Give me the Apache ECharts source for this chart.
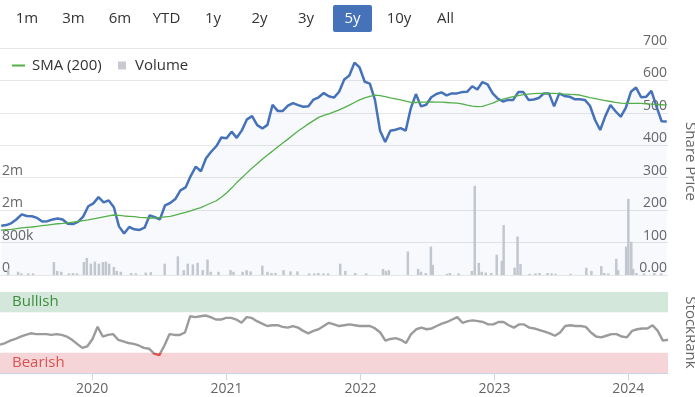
<!DOCTYPE html>
<html>
<head>
<meta charset="utf-8">
<script src="https://cdn.jsdelivr.net/npm/echarts@6/dist/echarts.min.js"></script>
<style>
  html, body { margin: 0; padding: 0; background: #fff; }
  #chart { width: 695px; height: 397px; }
</style>
</head>
<body>
<div id="chart"></div>
<script>
// range: 5 years, one sample every 2 weeks
const startDate = '2019-04-25'
const endDate = '2024-04-18'
const stepDays = 14

const rangeButtons = ['1m', '3m', '6m', 'YTD', '1y', '2y', '3y', '5y', '10y', 'All']
const activeRange = '5y'

// share price (p)
const price = [
  152, 154, 160, 172, 187, 182, 181, 176, 165, 166,
  171, 174, 171, 158, 157, 164, 180, 212, 221, 240,
  224, 230, 209, 150, 128, 148, 141, 139, 146, 184,
  178, 172, 215, 222, 234, 261, 270, 305, 334, 320,
  360, 380, 397, 424, 422, 442, 423, 446, 480, 490,
  462, 452, 463, 525, 506, 506, 522, 530, 524, 519,
  520, 541, 548, 561, 551, 547, 565, 603, 615, 655,
  640, 596, 590, 540, 445, 410, 445, 448, 453, 445,
  514, 558, 520, 525, 548, 558, 563, 554, 560, 560,
  564, 565, 582, 572, 595, 588, 560, 544, 535, 540,
  540, 564, 564, 540, 541, 546, 560, 560, 520, 560,
  552, 550, 542, 542, 540, 522, 478, 447, 490, 524,
  505, 488, 515, 565, 578, 548, 550, 568, 519, 474,
  473
]

// 200 day simple moving average
const sma200 = [
  138, 140, 141, 143, 145, 147, 148, 150, 152, 154,
  156, 158, 159, 161, 163, 165, 168, 170, 173, 176,
  179, 182, 185, 184, 182, 181, 180, 178, 177, 175,
  176, 177, 179, 181, 185, 189, 193, 198, 203, 208,
  215, 222, 229, 240, 253, 268, 285, 300, 315, 330,
  343, 357, 370, 382, 395, 407, 419, 432, 444, 455,
  466, 476, 486, 492, 497, 503, 509, 516, 524, 532,
  540, 546, 551, 555, 553, 550, 546, 543, 540, 536,
  532, 532, 533, 533, 534, 533, 533, 532, 531, 530,
  528, 524, 521, 519, 520, 525, 530, 537, 542, 546,
  550, 553, 556, 558, 559, 560, 560, 560, 560, 559,
  558, 557, 556, 555, 551, 547, 544, 541, 538, 535,
  532, 530, 529, 529, 529, 529, 528, 527, 526, 525,
  524
]

// StockRank 0-100
const stockRank = [
  35, 37, 40, 42, 45, 47, 49, 48, 48, 48,
  47, 48, 47, 45, 41, 36, 31, 33, 42, 57,
  45, 47, 48, 41, 39, 37, 36, 34, 31, 30,
  24, 22, 34, 48, 47, 47, 50, 70, 69, 70,
  71, 69, 66, 66, 68, 68, 66, 62, 69, 68,
  64, 61, 58, 59, 59, 57, 56, 58, 56, 52,
  49, 52, 54, 58, 62, 60, 58, 59, 60, 59,
  58, 58, 58, 55, 50, 40, 42, 43, 41, 37,
  48, 54, 56, 54, 55, 58, 61, 63, 66, 69,
  62, 64, 65, 64, 63, 60, 60, 63, 63, 59,
  56, 60, 60, 56, 55, 53, 51, 49, 46, 50,
  58, 59, 58, 58, 57, 50, 45, 44, 46, 48,
  48, 45, 44, 52, 54, 55, 55, 59, 52, 40,
  41
]
const bearishBelow = 25
const bullishAbove = 75

// volume, thousands of shares
const volumeDates = [
  '2019-05-14', '2019-06-10', '2019-06-19', '2019-07-08', '2019-07-21', '2019-09-16', '2019-09-25',
  '2019-10-06', '2019-10-27', '2019-11-07', '2019-11-18', '2019-12-07', '2019-12-15', '2019-12-26',
  '2020-01-06', '2020-01-17', '2020-01-28', '2020-02-05', '2020-02-14', '2020-02-27', '2020-03-06',
  '2020-03-17', '2020-04-14', '2020-04-27', '2020-05-24', '2020-06-07', '2020-07-15', '2020-08-20',
  '2020-09-05', '2020-09-16', '2020-09-30', '2020-10-13', '2020-10-27', '2020-11-09', '2020-11-18',
  '2020-12-09', '2021-01-11', '2021-01-19', '2021-02-13', '2021-02-24', '2021-03-07', '2021-04-08',
  '2021-04-22', '2021-05-03', '2021-05-14', '2021-06-05', '2021-06-24', '2021-07-13', '2021-08-14',
  '2021-08-28', '2021-09-08', '2021-09-22', '2021-10-05', '2021-11-07', '2021-11-21', '2021-12-18',
  '2022-01-17', '2022-03-04', '2022-03-12', '2022-03-20', '2022-05-11', '2022-06-08', '2022-06-16',
  '2022-06-29', '2022-07-13', '2022-07-18', '2022-08-26', '2022-09-03', '2022-09-27', '2022-11-02',
  '2022-11-10', '2022-11-21', '2022-11-29', '2022-12-10', '2022-12-25', '2023-01-09', '2023-01-23',
  '2023-01-28', '2023-02-27', '2023-03-07', '2023-03-15', '2023-04-09', '2023-04-25', '2023-05-06',
  '2023-05-28', '2023-06-08', '2023-06-19', '2023-07-30', '2023-09-11', '2023-09-25', '2023-10-22',
  '2023-10-30', '2023-11-10', '2023-12-02', '2023-12-07', '2023-12-29', '2024-01-04', '2024-01-12',
  '2024-01-17', '2024-01-26', '2024-02-16', '2024-03-15', '2024-04-03'
]
const volumeK = [
  150, 80, 40, 40, 40, 320, 100,
  80, 40, 50, 40, 320, 420, 280,
  330, 280, 320, 330, 280, 200, 100,
  80, 50, 40, 60, 70, 280, 460,
  120, 280, 260, 300, 120, 380, 80,
  80, 120, 80, 80, 120, 90, 230,
  80, 50, 50, 120, 90, 90, 40,
  40, 50, 40, 40, 280, 100, 50,
  40, 150, 100, 120, 580, 150, 80,
  50, 700, 250, 30, 50, 40, 100,
  2200, 300, 80, 60, 50, 500, 350,
  1230, 180, 950, 270, 30, 40, 50,
  50, 40, 30, 30, 180, 100, 220,
  50, 40, 400, 120, 700, 1880, 820,
  150, 50, 40, 50, 40
]

const DAY = 24 * 3600 * 1000
const t0 = new Date(startDate + 'T00:00:00').getTime()
const sampleDates = price.map((_, i) => t0 + i * stepDays * DAY)

const font = 'Open Sans'
const grey = '#666'

// layout of the two panels (axis names hang outside on purpose)
const mainGrid = { left: 0, right: 27, top: 48, height: 227, outerBoundsMode: 'none' }
const rankGrid = { left: 0, right: 27, top: 292, height: 81, outerBoundsMode: 'none' }

const chart = echarts.init(document.getElementById('chart'), null, { renderer: 'canvas' })

// range selector buttons (decoration only)
const buttons = []
rangeButtons.forEach((label, i) => {
  const cx = 27 + i * 46.5
  const active = label === activeRange
  if (active) {
    buttons.push({
      type: 'rect',
      shape: { x: cx - 19.5, y: 5, width: 39, height: 27, r: 2 },
      style: { fill: '#4572b8' }
    })
  }
  buttons.push({
    type: 'text',
    x: cx,
    y: 19,
    style: {
      text: label,
      fill: active ? '#fff' : '#333',
      font: '15px "' + font + '"',
      textAlign: 'center',
      textVerticalAlign: 'middle'
    }
  })
})

// rank line turns red inside the bearish band (global gradient over the rank panel)
const redStop = 1 - bearishBelow / 100
const rankColor = new echarts.graphic.LinearGradient(0, rankGrid.top, 0, rankGrid.top + rankGrid.height, [
  { offset: 0, color: '#9b9b9b' },
  { offset: redStop, color: '#9b9b9b' },
  { offset: redStop, color: '#d9534f' },
  { offset: 1, color: '#d9534f' }
], true)

const option = {
  animation: false,
  textStyle: { fontFamily: font },
  graphic: buttons,
  legend: [
    {
      data: ['SMA (200)'],
      left: 6,
      top: 53,
      itemWidth: 13,
      itemHeight: 2,
      textStyle: { color: '#333', fontSize: 15, fontFamily: font, padding: [0, 0, 0, 2] }
    },
    {
      data: [{ name: 'Volume', icon: 'rect' }],
      left: 113,
      top: 53,
      itemWidth: 8,
      itemHeight: 8,
      textStyle: { color: '#333', fontSize: 15, fontFamily: font, padding: [0, 0, 0, 4] }
    }
  ],
  grid: [mainGrid, rankGrid],
  xAxis: [
    {
      type: 'time',
      gridIndex: 0,
      min: startDate,
      max: endDate,
      axisLine: { show: false },
      axisTick: { show: false },
      axisLabel: { show: false },
      splitLine: { show: false }
    },
    {
      type: 'time',
      gridIndex: 1,
      min: startDate,
      max: endDate,
      minInterval: 365 * DAY,
      maxInterval: 366 * DAY,
      axisLine: { lineStyle: { color: '#ccd6eb' } },
      axisTick: { length: 7, lineStyle: { color: '#ccd6eb' } },
      axisLabel: {
        color: grey,
        fontSize: 14,
        margin: 9,
        formatter: '{yyyy}',
        showMinLabel: false,
        showMaxLabel: false
      },
      splitLine: { show: false }
    }
  ],
  yAxis: [
    {
      // share price
      type: 'value',
      gridIndex: 0,
      position: 'right',
      min: 0,
      max: 700,
      interval: 100,
      name: 'Share Price',
      nameLocation: 'middle',
      nameRotate: -90,
      nameGap: 15,
      nameTextStyle: { color: grey, fontSize: 15 },
      axisLine: { show: false },
      axisTick: { show: false },
      axisLabel: {
        inside: true,
        margin: 1,
        verticalAlign: 'bottom',
        color: grey,
        fontSize: 14,
        formatter: v => (v === 0 ? '0.00' : String(v))
      },
      splitLine: { lineStyle: { color: '#e6e6e6' } }
    },
    {
      // volume
      type: 'value',
      gridIndex: 0,
      position: 'left',
      min: 0,
      max: 5600,
      interval: 800,
      axisLine: { show: false },
      axisTick: { show: false },
      axisLabel: {
        inside: true,
        margin: 2,
        verticalAlign: 'bottom',
        color: grey,
        fontSize: 14,
        formatter: v => {
          if (v === 0) return '0'
          if (v > 2400) return ''
          return v < 1000 ? v + 'k' : Math.round(v / 1000) + 'm'
        }
      },
      splitLine: { show: false }
    },
    {
      // stockrank
      type: 'value',
      gridIndex: 1,
      position: 'right',
      min: 0,
      max: 100,
      interval: 100,
      name: 'StockRank',
      nameLocation: 'middle',
      nameRotate: -90,
      nameGap: 15,
      nameTextStyle: { color: grey, fontSize: 15 },
      axisLine: { show: false },
      axisTick: { show: false },
      axisLabel: {
        inside: true,
        margin: 1,
        verticalAlign: 'bottom',
        color: grey,
        fontSize: 14,
        formatter: v => (v === 0 ? '0' : '')
      },
      splitLine: { lineStyle: { color: '#e6e6e6' } }
    }
  ],
  series: [
    {
      name: 'Volume',
      type: 'bar',
      xAxisIndex: 0,
      yAxisIndex: 1,
      barWidth: 2.5,
      itemStyle: { color: '#c8cad0' },
      data: volumeDates.map((d, i) => [d, volumeK[i]]),
      z: 1
    },
    {
      name: 'Price',
      type: 'line',
      xAxisIndex: 0,
      yAxisIndex: 0,
      symbol: 'none',
      lineStyle: { color: '#4572b8', width: 2.5 },
      itemStyle: { color: '#4572b8' },
      areaStyle: { color: 'rgba(69,114,196,0.06)' },
      data: sampleDates.map((t, i) => [t, price[i]]),
      z: 3
    },
    {
      name: 'SMA (200)',
      type: 'line',
      xAxisIndex: 0,
      yAxisIndex: 0,
      symbol: 'none',
      lineStyle: { color: '#55b04b', width: 1.3 },
      itemStyle: { color: '#55b04b' },
      data: sampleDates.map((t, i) => [t, sma200[i]]),
      z: 4
    },
    {
      name: 'StockRank',
      type: 'line',
      xAxisIndex: 1,
      yAxisIndex: 2,
      symbol: 'none',
      lineStyle: { width: 2.4, color: rankColor },
      itemStyle: { color: '#9b9b9b' },
      data: sampleDates.map((t, i) => [t, stockRank[i]]),
      z: 3,
      markArea: {
        silent: true,
        data: [
          [
            {
              name: 'Bullish',
              xAxis: startDate,
              yAxis: bullishAbove,
              itemStyle: { color: '#d3e7da' },
              label: { color: '#3c8f3c' }
            },
            { xAxis: endDate, yAxis: 100 }
          ],
          [
            {
              name: 'Bearish',
              xAxis: startDate,
              yAxis: 0,
              itemStyle: { color: '#f5d5d8' },
              label: { color: '#d9534f' }
            },
            { xAxis: endDate, yAxis: bearishBelow }
          ]
        ],
        label: { position: 'insideLeft', distance: 12, fontSize: 15, fontFamily: font }
      }
    }
  ]
}

chart.setOption(option)
</script>
</body>
</html>
